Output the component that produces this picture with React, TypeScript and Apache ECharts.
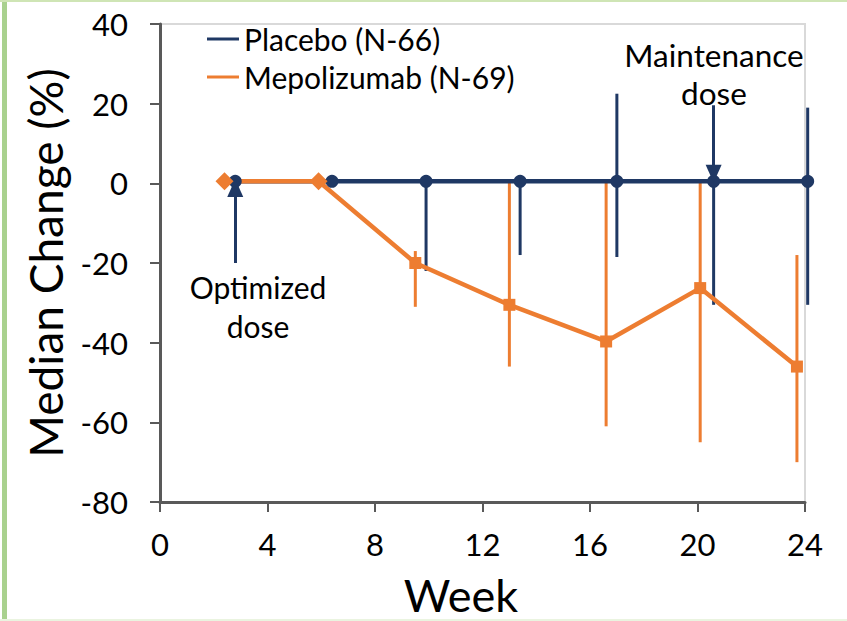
import React, { useEffect, useRef } from "react";
import * as echarts from "echarts";

const NAVY = "#1f3864";
const ORANGE = "#ed7d31";
const FONT = "Lato";

// Placebo (N-66)
const placeboWeeks = [2.8, 6.4, 9.9, 13.4, 17.0, 20.6, 24.1];
const placeboMedian = [0.5, 0.5, 0.5, 0.5, 0.5, 0.5, 0.5];
const placeboLow: (number | null)[] = [null, null, -22, -18, -18.5, -30.5, -30.5];
const placeboHigh: (number | null)[] = [null, null, 0.5, 0.5, 22.5, 0.5, 19];

// Mepolizumab (N-69)
const mepoWeeks = [2.4, 5.9, 9.5, 13.0, 16.6, 20.1, 23.7];
const mepoMedian = [0.5, 0.5, -20, -30.5, -39.7, -26.3, -46];
const mepoLow: (number | null)[] = [null, null, -31, -46, -61, -65, -70];
const mepoHigh: (number | null)[] = [null, null, -17, 0.5, 0.5, 0.5, -18];

const xTicks = { min: 0, max: 24, interval: 4 };
const yTicks = { min: -80, max: 40, interval: 20 };

function errRows(weeks: number[], low: (number | null)[], high: (number | null)[]) {
  const rows: number[][] = [];
  weeks.forEach((w, i) => {
    if (low[i] != null && high[i] != null) rows.push([w, low[i] as number, high[i] as number]);
  });
  return rows;
}

function errSeries(name: string, rows: number[][], color: string, width: number) {
  return {
    type: "custom",
    name,
    data: rows,
    clip: false,
    silent: true,
    encode: { x: 0, y: [1, 2] },
    renderItem: (params: any, api: any) => {
      const x = api.value(0);
      const p1 = api.coord([x, api.value(1)]);
      const p2 = api.coord([x, api.value(2)]);
      return {
        type: "line",
        shape: { x1: p1[0], y1: p1[1], x2: p2[0], y2: p2[1] },
        style: { stroke: color, lineWidth: width },
      };
    },
  };
}

export default function App() {
  const ref = useRef<HTMLDivElement>(null);
  useEffect(() => {
    const chart = echarts.init(ref.current!, null, { renderer: "svg" });
    const option: any = {
      animation: false,
      backgroundColor: "#ffffff",
      textStyle: { fontFamily: FONT },
      grid: {
        left: 160,
        right: 42,
        top: 24,
        bottom: 119,
        show: true,
        borderColor: "#d9d9d9",
        borderWidth: 2,
      },
      legend: {
        data: ["Placebo (N-66)", "Mepolizumab (N-69)"],
        orient: "vertical",
        left: 202,
        top: 19,
        icon: "rect",
        itemWidth: 32,
        itemHeight: 3,
        itemGap: 8,
        textStyle: { fontSize: 30, fontFamily: FONT, color: "#000" },
      },
      xAxis: {
        type: "value",
        min: xTicks.min,
        max: xTicks.max,
        interval: xTicks.interval,
        axisLine: { show: true, onZero: false, lineStyle: { color: "#595959", width: 3 } },
        axisTick: { show: true, length: 10, lineStyle: { color: "#595959", width: 2 } },
        axisLabel: { fontSize: 31, color: "#000", margin: 26, fontFamily: FONT },
        splitLine: { show: false },
      },
      yAxis: {
        type: "value",
        min: yTicks.min,
        max: yTicks.max,
        interval: yTicks.interval,
        name: "Median Change (%)",
        nameLocation: "middle",
        nameGap: 92,
        nameTextStyle: { fontSize: 46, fontFamily: FONT, color: "#000" },
        axisLine: { show: true, lineStyle: { color: "#595959", width: 3 } },
        axisTick: { show: true, length: 10, lineStyle: { color: "#595959", width: 2 } },
        axisLabel: { fontSize: 31, color: "#000", margin: 32, fontFamily: FONT },
        splitLine: { show: false },
      },
      series: [
        errSeries("placeboErr", errRows(placeboWeeks, placeboLow, placeboHigh), NAVY, 3),
        {
          type: "line",
          name: "Placebo (N-66)",
          data: placeboWeeks.map((w, i) => [w, placeboMedian[i]]),
          clip: false,
          symbol: "circle",
          symbolSize: 13,
          lineStyle: { color: NAVY, width: 4.5 },
          itemStyle: { color: NAVY },
          markLine: {
            silent: true,
            symbolSize: [16, 18],
            label: { show: false },
            lineStyle: { color: NAVY, width: 3, type: "solid" },
            data: [
              [
                { coord: [2.8, -20], symbol: "none" },
                { coord: [2.8, -1.2], symbol: "triangle" },
              ],
              [
                { coord: [20.6, 19.6], symbol: "none" },
                { coord: [20.6, 2.4], symbol: "triangle" },
              ],
            ],
          },
        },
        errSeries("mepoErr", errRows(mepoWeeks, mepoLow, mepoHigh), ORANGE, 3),
        {
          type: "line",
          name: "Mepolizumab (N-69)",
          data: mepoWeeks.map((w, i) => ({
            value: [w, mepoMedian[i]],
            symbol: i < 2 ? "diamond" : "rect",
            symbolSize: i < 2 ? 18 : 12,
          })),
          clip: false,
          lineStyle: { color: ORANGE, width: 4.5 },
          itemStyle: { color: ORANGE },
        },
      ],
      graphic: [
        { type: "rect", shape: { x: 2, y: 0, width: 5, height: 621 }, style: { fill: "#a9d18e" }, silent: true },
        { type: "rect", shape: { x: 0, y: 0, width: 847, height: 2 }, style: { fill: "#cfe5b5" }, silent: true },
        { type: "rect", shape: { x: 0, y: 619, width: 847, height: 2 }, style: { fill: "#eaf4e0" }, silent: true },
        {
          type: "text",
          x: 461,
          y: 595,
          style: {
            text: "Week",
            fontSize: 45,
            lineHeight: 42,
            fontFamily: FONT,
            fill: "#000",
            align: "center",
            verticalAlign: "middle",
          },
        },
        {
          type: "text",
          x: 258,
          y: 306,
          style: {
            text: "Optimized\ndose",
            fontSize: 30,
            fontFamily: FONT,
            fill: "#000",
            align: "center",
            verticalAlign: "middle",
            lineHeight: 39,
          },
        },
        {
          type: "text",
          x: 714,
          y: 74,
          style: {
            text: "Maintenance\ndose",
            fontSize: 31.5,
            fontFamily: FONT,
            fill: "#000",
            align: "center",
            verticalAlign: "middle",
            lineHeight: 38,
          },
        },
      ],
    };
    chart.setOption(option);
    return () => chart.dispose();
  }, []);
  return (
    <div
      ref={ref}
      style={{ position: "fixed", left: 0, top: 0, width: 847, height: 621, background: "#fff" }}
    />
  );
}
